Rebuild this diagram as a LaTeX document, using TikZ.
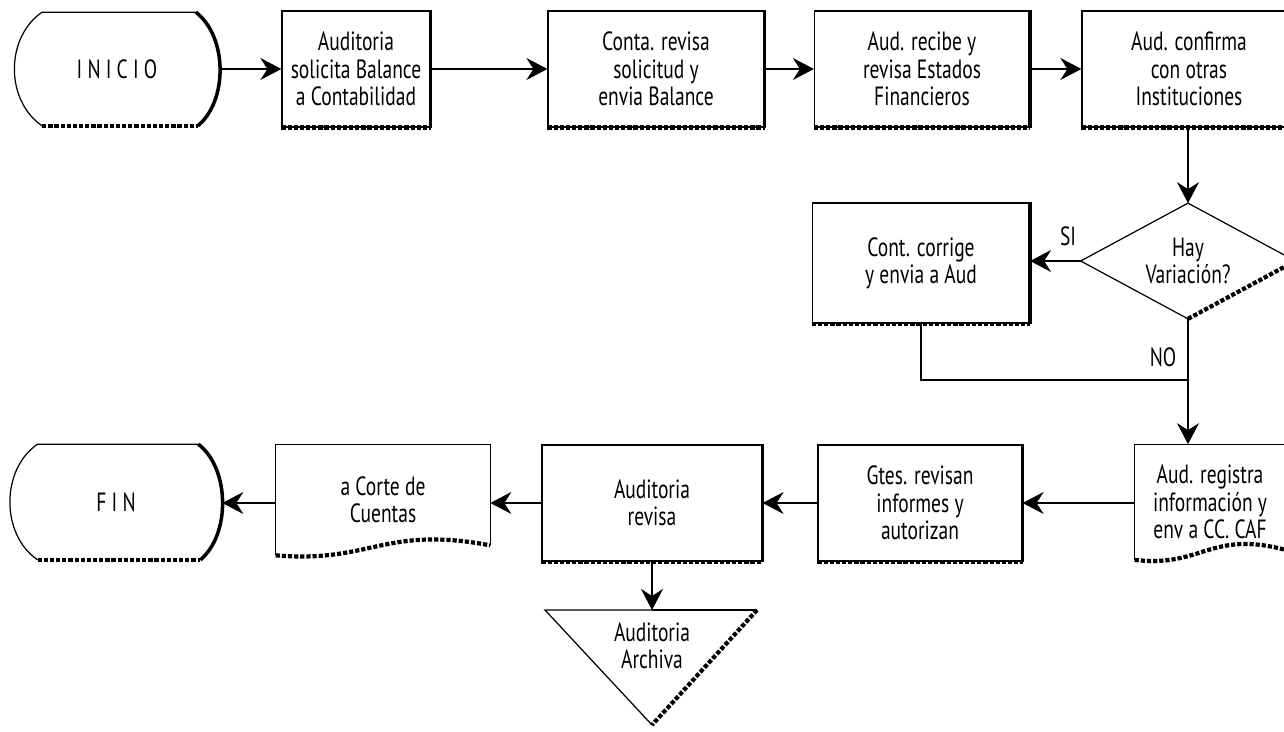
\documentclass[tikz,border=0pt]{standalone}
\usepackage{fontspec}
\setmainfont{PT Sans}[FakeStretch=0.74]
\usetikzlibrary{arrows.meta,calc}
\def\pxu{0.02cm}

% terminal (start / end) outline around a named node
\newcommand\termshape[1]{%
  \draw[edge] ($(#1.north east)+(-24,0)$) -- ($(#1.north west)+(28,0)$)
    .. controls ($(#1.north west)+(-9,25)$) and ($(#1.south west)+(-9,-25)$) .. ($(#1.south west)+(28,0)$);
  \draw[shadowR] ($(#1.north east)+(-24,0)$)
    .. controls ($(#1.north east)+(8,25)$) and ($(#1.south east)+(8,-25)$) .. ($(#1.south east)+(-22,0)$);
  \draw[shadowB] ($(#1.south west)+(28,0)$) -- ($(#1.south east)+(-22,0)$);
}
% process box shadow edges
\newcommand\boxshadow[1]{%
  \draw[shadowR] (#1.north east) -- (#1.south east);
  \draw[shadowB] (#1.south west) -- (#1.south east);
}
% document outline with a wavy lower edge
\newcommand\docshape[1]{%
  \draw[edge] (#1.south west) -- (#1.north west) -- (#1.north east) -- ($(#1.south east)+(0,-10)$);
  \draw[shadowB] (#1.south west)
    .. controls ($(#1.south west)!0.45!(#1.south east)+(0,8)$) and ($(#1.south west)!0.5!(#1.south east)+(0,-30)$) .. ($(#1.south east)+(0,-10)$);
}

\begin{document}
\begin{tikzpicture}[x=0.02cm,y=-0.02cm,
  every node/.style={font=\fontsize{15}{15.5}\selectfont, align=center, inner sep=0pt},
  edge/.style={line width=0.7pt},
  shadowR/.style={line width=2pt},
  shadowB/.style={line width=2.4pt, dash pattern=on 2.4pt off 1.1pt},
  flow/.style={line width=0.7pt, -{Stealth[length=0.42cm,width=0.44cm,inset=0.14cm]}},
  proc/.style={draw, line width=0.7pt, minimum width=#1*\pxu, minimum height=116*\pxu},
  termbox/.style={minimum width=#1*\pxu, minimum height=113*\pxu},
  docbox/.style={minimum width=#1*\pxu, minimum height=112*\pxu},
]
\useasboundingbox (0,0) rectangle (1284,732);
\clip (0,0) rectangle (1284,732);

% top row
\node[termbox=205] (ini) at (117,69) {I N I C I O};
\termshape{ini}
\node[proc=148] (b1) at (356,69) {Auditoria\\solicita Balance\\a Contabilidad};
\node[proc=216] (b2) at (656,69) {Conta. revisa\\solicitud y\\envia Balance};
\node[proc=215] (b3) at (922,69) {Aud. recibe y\\revisa Estados\\Financieros};
\node[proc=214] (b4) at (1189,69) {Aud. confirma\\con otras\\Instituciones};
\boxshadow{b1}
\boxshadow{b2}
\boxshadow{b3}
\boxshadow{b4}

\draw[flow] (ini.east) -- (b1.west);
\draw[flow] (b1.east) -- (b2.west);
\draw[flow] (b2.east) -- (b3.west);
\draw[flow] (b3.east) -- (b4.west);

% decision
\node[minimum width=214*\pxu, minimum height=115*\pxu] (dia) at (1188,261) {Hay\\Variación?};
\draw[edge] (dia.east) -- (dia.north) -- (dia.west) -- (dia.south);
\draw[shadowB] (dia.south) -- (dia.east);
\draw[flow] (b4.south -| dia.north) -- (dia.north);

\node[proc=217, minimum height=120*\pxu] (corr) at (921,263) {Cont. corrige\\y envia a Aud};
\boxshadow{corr}
\draw[flow] (dia.west) -- (dia.west -| corr.east);
\node (si) at (1068,236) {SI};
\node (no) at (1163,357) {NO};

\coordinate (merge) at (1188,380);
\draw[edge] (corr.south) |- (merge);

% bottom row
\node[docbox=150, minimum height=115*\pxu] (reg) at (1210,502) {Aud. registra\\información y\\env a CC. CAF};
\docshape{reg}
\draw[flow] (dia.south) -- (dia.south |- reg.north);

\node[proc=204] (gtes) at (920,503) {Gtes. revisan\\informes y\\autorizan};
\node[proc=220] (rev) at (652,503) {Auditoria\\revisa};
\boxshadow{gtes}
\boxshadow{rev}
\node[docbox=214, minimum height=110*\pxu] (corte) at (383,500) {a Corte de\\Cuentas};
\docshape{corte}
\node[termbox=212, minimum height=115*\pxu] (fin) at (116,502) {F I N};
\termshape{fin}

\draw[flow] (reg.west |- gtes.east) -- (gtes.east);
\draw[flow] (gtes.west) -- (rev.east);
\draw[flow] (rev.west) -- (rev.west -| corte.east);
\draw[flow] (rev.west -| corte.west) -- (rev.west -| fin.east);

% archive
\coordinate (archtop) at (652,610);
\draw[edge] (652,610) -- (545,610) -- (652,725);
\draw[edge] (652,610) -- (757,610);
\draw[shadowB] (757,610) -- (652,725);
\node (arch) at (652,646) {Auditoria\\Archiva};
\draw[flow] (rev.south) -- (archtop);
\end{tikzpicture}
\end{document}
